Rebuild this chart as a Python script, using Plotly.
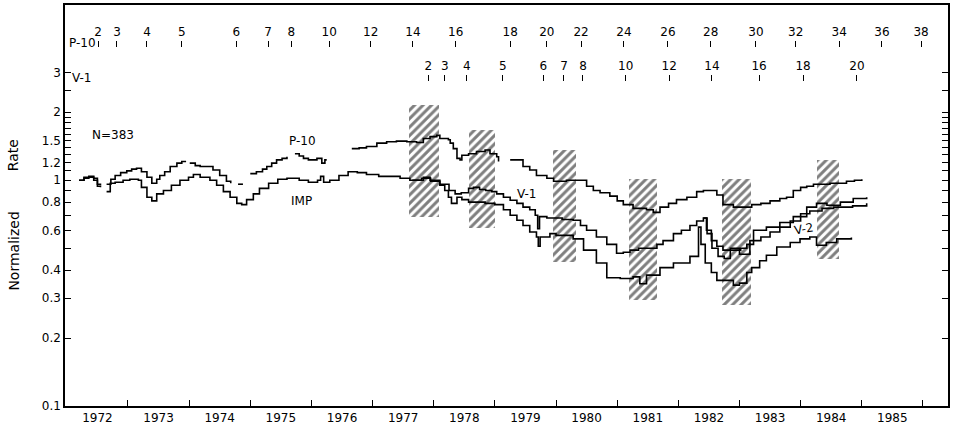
import plotly.graph_objects as go

# normalized rates (decimal year, rate); None marks a gap
p10_year = [1972.20, 1972.28, 1972.36, 1972.44, 1972.50, 1972.55, None,
            1972.65, 1972.72, 1972.79, 1972.88, 1972.98, 1973.06, 1973.14, 1973.22, 1973.31,
            1973.39, 1973.47, 1973.52, 1973.60, 1973.69, 1973.80, 1973.88, 1973.95, None,
            1974.01, 1974.10, 1974.18, 1974.29, 1974.39, 1974.50, 1974.61, 1974.68, None,
            1974.80, 1974.88, None,
            1975.00, 1975.10, 1975.20, 1975.27, 1975.35, 1975.43, 1975.52, 1975.60, None,
            1975.73, 1975.80, 1975.87, 1975.95, 1976.00, 1976.09, 1976.17, 1976.22, 1976.25, None,
            1976.66, 1976.78, 1976.90, 1977.07, 1977.23, 1977.39, 1977.56, 1977.72, 1977.83,
            1977.94, 1978.05, 1978.10, 1978.24, 1978.27, 1978.32, 1978.38, 1978.43, 1978.46,
            1978.57, 1978.70, 1978.84, 1978.92, 1979.03, 1979.06, None,
            1979.25, 1979.36, 1979.46, 1979.57, 1979.68, 1979.85, 1979.96, 1980.17, 1980.34,
            1980.50, 1980.61, 1980.72, 1980.88, 1981.00, 1981.10, 1981.26, 1981.48, 1981.59,
            1981.70, 1981.84, 1981.97, 1982.14, 1982.30, 1982.41, 1982.52, 1982.63, 1982.73,
            1982.90, 1983.06, 1983.20, 1983.35, 1983.50, 1983.66, 1983.77, 1983.88, 1984.00,
            1984.10, 1984.21, 1984.35, 1984.48, 1984.62, 1984.75, 1984.88, 1985.00]
p10_rate = [1.00, 1.03, 1.04, 1.02, 0.96, 0.95, None,
            0.96, 1.01, 1.05, 1.08, 1.10, 1.12, 1.13, 1.09, 1.03,
            0.97, 1.01, 1.05, 1.09, 1.15, 1.19, 1.21, 1.21, None,
            1.19, 1.16, 1.15, 1.15, 1.11, 1.05, 0.99, 0.97, None,
            0.96, 0.96, None,
            1.07, 1.09, 1.12, 1.15, 1.19, 1.23, 1.25, 1.27, None,
            1.31, 1.28, 1.25, 1.23, 1.23, 1.25, 1.19, 1.23, 1.23, None,
            1.38, 1.39, 1.41, 1.46, 1.48, 1.49, 1.48, 1.47, 1.53,
            1.56, 1.58, 1.53, 1.51, 1.46, 1.38, 1.25, 1.23, 1.29,
            1.31, 1.34, 1.36, 1.31, 1.27, 1.21, None,
            1.23, 1.23, 1.15, 1.11, 1.05, 1.02, 0.99, 1.00, 1.00,
            0.94, 0.90, 0.88, 0.85, 0.81, 0.78, 0.75, 0.74, 0.72,
            0.76, 0.79, 0.82, 0.84, 0.89, 0.90, 0.90, 0.86, 0.78,
            0.76, 0.76, 0.78, 0.79, 0.81, 0.83, 0.84, 0.90, 0.93,
            0.94, 0.96, 0.96, 0.97, 0.97, 0.99, 1.00, 1.01]

imp_year = [1972.20, 1972.28, 1972.36, 1972.44, 1972.50, 1972.55, None,
            1972.65, 1972.71, 1972.79, 1972.92, 1973.03, 1973.17, 1973.22, 1973.31, 1973.39,
            1973.47, 1973.58, 1973.71, 1973.85, 1973.99, 1974.07, 1974.18, 1974.34, 1974.45,
            1974.56, 1974.67, 1974.78, 1974.86, 1974.94, 1975.05, 1975.15, 1975.30, 1975.45,
            1975.60, 1975.80, 1975.95, 1976.10, 1976.15, 1976.20, 1976.30, 1976.45, 1976.60,
            1976.75, 1976.90, 1977.10, 1977.28, 1977.45, 1977.61, 1977.72, 1977.83, 1977.94,
            1978.10, 1978.18, 1978.24, 1978.29, 1978.38, 1978.46, 1978.57, 1978.70, 1978.84,
            1979.00, 1979.14, 1979.25, 1979.36, 1979.46, 1979.57, 1979.68, 1979.71, 1979.74,
            1979.90, 1980.00, 1980.28, 1980.45, 1980.66, 1980.83, 1981.05, 1981.26, 1981.37,
            1981.48, 1981.70, 1981.92, 1982.19, 1982.33, 1982.37, 1982.44, 1982.54, 1982.63,
            1982.73, 1982.90, 1983.00, 1983.12, 1983.20, 1983.33, 1983.44, 1983.61, 1983.83,
            1983.99, 1984.15, 1984.26, 1984.42, 1984.59, 1984.83]
imp_rate = [1.00, 1.02, 1.03, 1.00, 0.94, 0.93, None,
            0.89, 0.97, 0.98, 1.00, 1.01, 1.00, 0.93, 0.84, 0.81,
            0.87, 0.90, 0.95, 1.00, 1.03, 1.06, 1.03, 1.00, 0.95,
            0.89, 0.84, 0.79, 0.78, 0.82, 0.87, 0.92, 0.97, 1.01,
            1.02, 1.00, 0.98, 1.00, 1.04, 0.98, 1.00, 1.05, 1.09,
            1.08, 1.06, 1.04, 1.04, 1.02, 1.00, 1.00, 1.03, 1.00,
            0.95, 0.90, 0.84, 0.79, 0.84, 0.82, 0.80, 0.80, 0.79,
            0.78, 0.74, 0.70, 0.665, 0.63, 0.59, 0.56, 0.51, 0.56,
            0.58, 0.57, 0.55, 0.49, 0.43, 0.37, 0.367, 0.373, 0.348,
            0.38, 0.41, 0.43, 0.46, 0.62, 0.52, 0.43, 0.39, 0.36,
            0.36, 0.343, 0.35, 0.39, 0.41, 0.44, 0.465, 0.506, 0.53,
            0.55, 0.56, 0.515, 0.53, 0.55, 0.557]

v1_year = [1977.65, 1977.80, 1977.95, 1978.10, 1978.25, 1978.35, 1978.45, 1978.57, 1978.65,
           1978.75, 1978.85, 1978.95, 1979.03, 1979.14, 1979.25, 1979.36, 1979.46, 1979.57,
           1979.66, 1979.70, 1979.73, 1979.85, 1980.10, 1980.28, 1980.40, 1980.50, 1980.66,
           1980.83, 1980.99, 1981.10, 1981.21, 1981.35, 1981.54, 1981.65, 1981.75, 1981.92,
           1982.05, 1982.19, 1982.30, 1982.41, 1982.46, 1982.54, 1982.63, 1982.73, 1982.90,
           1983.02, 1983.12, 1983.23, 1983.44, 1983.66, 1983.88, 1984.10, 1984.26, 1984.43,
           1984.65, 1984.86, 1985.08]
v1_rate = [1.00, 1.02, 0.99, 0.96, 0.90, 0.87, 0.88, 0.92, 0.93,
           0.91, 0.90, 0.89, 0.87, 0.84, 0.815, 0.79, 0.76, 0.74,
           0.70, 0.61, 0.69, 0.68, 0.67, 0.665, 0.63, 0.60, 0.56,
           0.52, 0.475, 0.48, 0.49, 0.50, 0.50, 0.52, 0.54, 0.58,
           0.60, 0.63, 0.66, 0.68, 0.60, 0.54, 0.51, 0.49, 0.49,
           0.50, 0.52, 0.60, 0.62, 0.65, 0.69, 0.76, 0.79, 0.775,
           0.80, 0.83, 0.84]

v2_year = [1982.41, 1982.47, 1982.55, 1982.65, 1982.75, 1982.85, 1983.00, 1983.17, 1983.35,
           1983.50, 1983.66, 1983.83, 1984.00, 1984.15, 1984.35, 1984.54, 1984.70, 1984.85, 1985.08]
v2_rate = [0.68, 0.58, 0.50, 0.46, 0.45, 0.50, 0.47, 0.54, 0.56,
           0.59, 0.62, 0.66, 0.71, 0.73, 0.75, 0.76, 0.76, 0.77, 0.79]

# hatched intervals
shade_start = [1977.60, 1978.58, 1979.95, 1981.19, 1982.71, 1984.27]
shade_end = [1978.09, 1979.00, 1980.33, 1981.65, 1983.19, 1984.63]
shade_low = [0.686, 0.613, 0.433, 0.294, 0.28, 0.45]
shade_high = [2.15, 1.665, 1.36, 1.01, 1.01, 1.226]

# axis ticks
year_ticks = list(range(1973, 1987))
year_labels = [str(y) for y in range(1972, 1986)]
y_tickvals = [0.1, 0.2, 0.3, 0.4, 0.6, 0.8, 1, 1.2, 1.5, 2, 3]
y_ticktext = ["0.1", "0.2", "0.3", "0.4", "0.6", "0.8", "1", "1.2", "1.5", "2", "3"]

# heliocentric distance (AU) markers along the top
p10_au_year = [1972.51, 1972.82, 1973.31, 1973.88, 1974.77, 1975.29, 1975.67, 1976.29, 1976.97,
               1977.66, 1978.36, 1979.25, 1979.85, 1980.41, 1981.11, 1981.83, 1982.53, 1983.27,
               1983.92, 1984.63, 1985.33, 1985.97]
p10_au = ["2", "3", "4", "5", "6", "7", "8", "10", "12", "14", "16", "18", "20", "22", "24",
          "26", "28", "30", "32", "34", "36", "38"]
v1_au_year = [1977.91, 1978.18, 1978.54, 1979.13, 1979.79, 1980.13, 1980.44, 1981.14, 1981.85,
              1982.55, 1983.32, 1984.04, 1984.92]
v1_au = ["2", "3", "4", "5", "6", "7", "8", "10", "12", "14", "16", "18", "20"]

FONT = "DejaVu Sans"
x_range = [1971.97, 1986.41]

fig = go.Figure()

fig.add_trace(go.Bar(
    x=[(a + b) / 2 for a, b in zip(shade_start, shade_end)],
    width=[b - a for a, b in zip(shade_start, shade_end)],
    base=shade_low,
    y=[h - l for l, h in zip(shade_low, shade_high)],
    marker=dict(color="white", line=dict(width=0),
                pattern=dict(shape="/", fgcolor="black", bgcolor="white", size=6, solidity=0.5)),
    showlegend=False, hoverinfo="skip",
))

for xs, ys in [(p10_year, p10_rate), (imp_year, imp_rate), (v1_year, v1_rate), (v2_year, v2_rate)]:
    fig.add_trace(go.Scatter(x=xs, y=ys, mode="lines", line=dict(color="black", width=1.6, shape="hv"),
                             connectgaps=False, showlegend=False))

# empty traces so the distance scales get drawn
fig.add_trace(go.Scatter(x=[], y=[], xaxis="x2", showlegend=False))
fig.add_trace(go.Scatter(x=[], y=[], xaxis="x3", showlegend=False))

fig.update_layout(
    width=954, height=427,
    margin=dict(l=65, r=6, t=5, b=21),
    paper_bgcolor="white", plot_bgcolor="white",
    font=dict(family=FONT, size=12, color="black"),
    bargap=0,
    xaxis=dict(
        range=x_range, showgrid=False, zeroline=False, automargin=False,
        showline=True, linecolor="black", linewidth=1.5, mirror=True,
        tickmode="array", tickvals=[y + 0.5 for y in range(1972, 1986)], ticktext=year_labels,
        ticks="inside", ticklen=0, tickfont=dict(size=12),
        minor=dict(tickmode="array", tickvals=year_ticks, ticks="inside", ticklen=6,
                   tickcolor="black", showgrid=False),
    ),
    xaxis2=dict(
        range=x_range, overlaying="x", anchor="free", position=0.895, side="top",
        showline=False, showgrid=False, zeroline=False, automargin=False,
        tickmode="array", tickvals=p10_au_year, ticktext=p10_au,
        ticks="outside", ticklen=6, tickcolor="black", tickfont=dict(size=12),
    ),
    xaxis3=dict(
        range=x_range, overlaying="x", anchor="free", position=0.810, side="top",
        showline=False, showgrid=False, zeroline=False, automargin=False,
        tickmode="array", tickvals=v1_au_year, ticktext=v1_au,
        ticks="outside", ticklen=6, tickcolor="black", tickfont=dict(size=12),
    ),
    yaxis=dict(
        type="log", range=[-1, 0.776], showgrid=False, zeroline=False, automargin=False,
        showline=True, linecolor="black", linewidth=1.5, mirror="allticks",
        tickmode="array", tickvals=y_tickvals, ticktext=y_ticktext,
        ticks="inside", ticklen=6, tickcolor="black", tickfont=dict(size=12),
        minor=dict(tickmode="array",
                   tickvals=[0.5, 0.7, 0.9, 1.1, 1.3, 1.4, 1.6, 1.7, 1.8, 1.9, 2.5],
                   ticks="inside", ticklen=3, tickcolor="black"),
    ),
)

labels = [
    (1972.75, 0.199, "N=383", 0),
    (1975.85, 0.173, "P-10", 0),
    (1975.83, -0.091, "IMP", 0),
    (1979.52, -0.062, "V-1", 0),
    (1984.05, -0.215, "V-2", -10),
]
for lx, ly, txt, ang in labels:
    fig.add_annotation(x=lx, y=ly, text=txt, showarrow=False, textangle=ang, font=dict(size=12))

fig.add_annotation(x=1972.0, y=0.904, xref="x", yref="paper", xanchor="left", yanchor="middle",
                   text="P-10", showarrow=False, font=dict(size=12))
fig.add_annotation(x=1972.05, y=0.818, xref="x", yref="paper", xanchor="left", yanchor="middle",
                   text="V-1", showarrow=False, font=dict(size=12))
fig.add_annotation(x=-0.058, y=0.625, xref="paper", yref="paper", xanchor="center", yanchor="middle",
                   text="Rate", textangle=-90, showarrow=False, font=dict(size=14))
fig.add_annotation(x=-0.058, y=0.387, xref="paper", yref="paper", xanchor="center", yanchor="middle",
                   text="Normalized", textangle=-90, showarrow=False, font=dict(size=14))

# the page body has a default 8px margin; drop it so the figure fills the window
fig.write_html("out.html", config={"displayModeBar": False},
               post_script="document.body.style.margin='0';")
